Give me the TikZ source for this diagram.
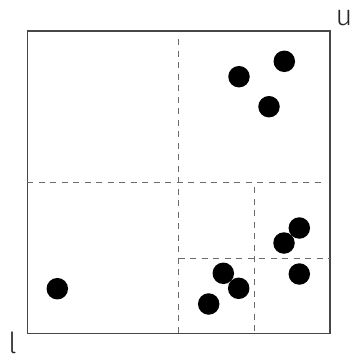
\documentclass[tikz,border=0pt]{standalone}
\usepackage{fontspec}
\setmainfont{Fira Sans Light}
\begin{document}
\begin{tikzpicture}[x=1pt,y=-1pt,
  frame/.style={draw=black!72,line width=1.5pt},
  split/.style={draw=black!58,line width=1.5pt,dash pattern=on 6pt off 5.5pt},
  pt/.style={circle,fill=black,inner sep=0pt,minimum size=21.5pt},
  lab/.style={font=\fontsize{29}{29}\selectfont,inner sep=0pt,text=black!85}]
\useasboundingbox (0,0) rectangle (352,362);
\draw[frame] (27.3,31) rectangle (330,333.7);
% quadtree splits
\draw[split] (178.7,39) -- (178.7,333.7);
\draw[split] (27.3,182.5) -- (325,182.5);
\draw[split] (254.3,187) -- (254.3,333.7);
\draw[split] (178.7,258.3) -- (330,258.3);
% points
\node[pt] (p1) at (284.3,61.3) {};
\node[pt] (p2) at (239,76.7) {};
\node[pt] (p3) at (269,106.7) {};
\node[pt] (p4) at (299.3,228) {};
\node[pt] (p5) at (284,243) {};
\node[pt] (p6) at (299.3,274) {};
\node[pt] (p7) at (223.3,273.3) {};
\node[pt] (p8) at (238.7,288.3) {};
\node[pt] (p9) at (208.7,304) {};
\node[pt] (p10) at (57.3,288.7) {};
% labels
\node[lab,anchor=base] (u) at (344,25) {u};
\node[lab,anchor=base] (l) at (12.5,353) {l};
\end{tikzpicture}
\end{document}
